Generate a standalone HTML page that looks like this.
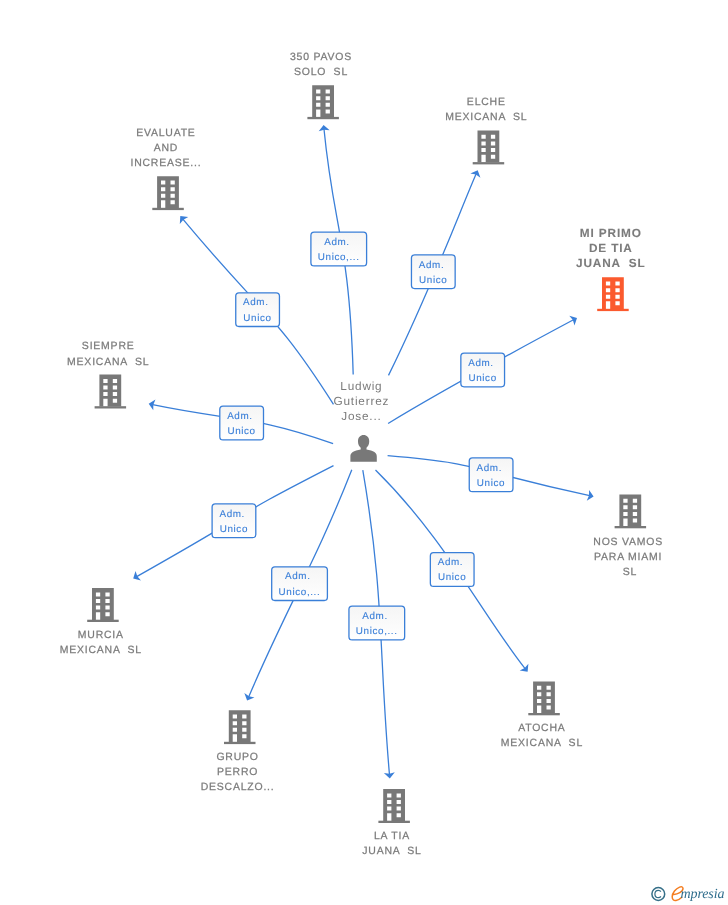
<!DOCTYPE html>
<html><head><meta charset="utf-8"><style>
html,body{margin:0;padding:0;background:#fff;width:728px;height:905px;overflow:hidden}
svg{position:absolute;left:0;top:0;display:block;will-change:transform}
text{font-family:"Liberation Sans",sans-serif;white-space:pre;stroke-width:0.25px;text-rendering:geometricPrecision}
.nl,.pl{stroke:#7b7b7b}
.pl{stroke-width:0.12px}
.nl.b{stroke-width:0.1px}
.el{stroke:#3a7fd8}
.nl{font-size:10.46px;fill:#7b7b7b;text-anchor:middle;letter-spacing:0.8px}
.nl.b{font-weight:bold;font-size:11.8px;letter-spacing:0.86px}
.pl{font-size:11.8px;fill:#7b7b7b;text-anchor:middle;letter-spacing:0.8px;stroke:none}
.el{font-size:9.85px;fill:#3a7fd8;text-anchor:middle;letter-spacing:0.62px;stroke-width:0.12px}
</style></head><body>
<svg width="728" height="905" viewBox="0 0 728 905" xml:space="preserve">
<defs><linearGradient id="g" x1="0" y1="0" x2="0" y2="1"><stop offset="0" stop-color="#f5f5f5"/><stop offset="1" stop-color="#ffffff"/></linearGradient></defs>
<path d="M353.20 374.40C349.12 239.75 333.63 228.43 323.98 128.98" fill="none" stroke="#3a7fd8" stroke-width="1.3"/>
<path d="M323.60 125.00L329.66 130.21L324.08 129.68L318.72 131.33Z" fill="#3a7fd8"/>
<path d="M388.50 375.40C431.68 287.62 458.76 213.78 476.09 173.96" fill="none" stroke="#3a7fd8" stroke-width="1.3"/>
<path d="M477.70 170.30L480.43 177.81L475.82 174.61L470.34 173.42Z" fill="#3a7fd8"/>
<path d="M333.50 404.30C274.06 311.12 264.22 316.58 182.86 219.17" fill="none" stroke="#3a7fd8" stroke-width="1.3"/>
<path d="M180.30 216.10L188.24 217.00L183.33 219.70L179.82 224.08Z" fill="#3a7fd8"/>
<path d="M388.10 423.50C439.96 391.87 507.87 354.85 573.47 319.79" fill="none" stroke="#3a7fd8" stroke-width="1.3"/>
<path d="M577.00 317.90L574.48 325.49L572.86 320.12L569.29 315.79Z" fill="#3a7fd8"/>
<path d="M333.10 443.60C252.64 415.11 235.75 421.82 152.62 404.62" fill="none" stroke="#3a7fd8" stroke-width="1.3"/>
<path d="M148.70 403.80L155.48 399.57L153.31 404.74L153.29 410.35Z" fill="#3a7fd8"/>
<path d="M387.60 455.70C486.07 463.90 465.99 468.95 589.69 495.66" fill="none" stroke="#3a7fd8" stroke-width="1.3"/>
<path d="M593.60 496.50L586.76 500.63L589.01 495.49L589.11 489.89Z" fill="#3a7fd8"/>
<path d="M333.50 465.60C220.00 523.86 275.82 498.10 136.68 576.63" fill="none" stroke="#3a7fd8" stroke-width="1.3"/>
<path d="M133.20 578.60L135.54 570.96L137.29 576.28L140.96 580.53Z" fill="#3a7fd8"/>
<path d="M375.50 470.00C443.97 537.38 482.20 614.12 525.11 668.67" fill="none" stroke="#3a7fd8" stroke-width="1.3"/>
<path d="M527.60 671.80L519.70 670.60L524.71 668.09L528.38 663.84Z" fill="#3a7fd8"/>
<path d="M351.80 469.70C314.82 563.81 287.12 606.74 248.66 696.92" fill="none" stroke="#3a7fd8" stroke-width="1.3"/>
<path d="M247.10 700.60L244.34 693.10L248.96 696.28L254.44 697.44Z" fill="#3a7fd8"/>
<path d="M362.80 470.20C384.54 597.53 378.45 647.58 389.45 774.42" fill="none" stroke="#3a7fd8" stroke-width="1.3"/>
<path d="M389.80 778.40L383.84 773.08L389.41 773.72L394.80 772.16Z" fill="#3a7fd8"/>
<rect x="310.90" y="232.20" width="55.70" height="33.70" rx="3.2" fill="url(#g)" stroke="#3a7fd8" stroke-width="1.3"/>
<text x="338.66" y="244.85" class="el">Adm. </text>
<text x="338.66" y="259.95" class="el">Unico,...</text>
<rect x="411.45" y="254.85" width="43.70" height="33.70" rx="3.2" fill="url(#g)" stroke="#3a7fd8" stroke-width="1.3"/>
<text x="433.21" y="267.50" class="el">Adm. </text>
<text x="433.21" y="282.60" class="el">Unico</text>
<rect x="235.75" y="292.80" width="43.70" height="33.70" rx="3.2" fill="url(#g)" stroke="#3a7fd8" stroke-width="1.3"/>
<text x="257.51" y="305.45" class="el">Adm. </text>
<text x="257.51" y="320.55" class="el">Unico</text>
<rect x="460.85" y="353.10" width="43.70" height="33.70" rx="3.2" fill="url(#g)" stroke="#3a7fd8" stroke-width="1.3"/>
<text x="482.61" y="365.75" class="el">Adm. </text>
<text x="482.61" y="380.85" class="el">Unico</text>
<rect x="219.80" y="406.15" width="43.70" height="33.70" rx="3.2" fill="url(#g)" stroke="#3a7fd8" stroke-width="1.3"/>
<text x="241.56" y="418.80" class="el">Adm. </text>
<text x="241.56" y="433.90" class="el">Unico</text>
<rect x="469.25" y="457.90" width="43.70" height="33.70" rx="3.2" fill="url(#g)" stroke="#3a7fd8" stroke-width="1.3"/>
<text x="491.01" y="470.55" class="el">Adm. </text>
<text x="491.01" y="485.65" class="el">Unico</text>
<rect x="212.10" y="503.90" width="43.70" height="33.70" rx="3.2" fill="url(#g)" stroke="#3a7fd8" stroke-width="1.3"/>
<text x="233.86" y="516.55" class="el">Adm. </text>
<text x="233.86" y="531.65" class="el">Unico</text>
<rect x="430.35" y="552.70" width="43.70" height="33.70" rx="3.2" fill="url(#g)" stroke="#3a7fd8" stroke-width="1.3"/>
<text x="452.11" y="565.35" class="el">Adm. </text>
<text x="452.11" y="580.45" class="el">Unico</text>
<rect x="271.70" y="566.80" width="55.70" height="33.70" rx="3.2" fill="url(#g)" stroke="#3a7fd8" stroke-width="1.3"/>
<text x="299.46" y="579.45" class="el">Adm. </text>
<text x="299.46" y="594.55" class="el">Unico,...</text>
<rect x="348.95" y="606.15" width="55.70" height="33.70" rx="3.2" fill="url(#g)" stroke="#3a7fd8" stroke-width="1.3"/>
<text x="376.71" y="618.80" class="el">Adm. </text>
<text x="376.71" y="633.90" class="el">Unico,...</text>
<g fill="#787878"><path fill-rule="evenodd" d="M312.20 85.30h21.8v31.8h-21.8z M316.10 89.60h4.3v4.0h-4.3z M325.60 89.60h4.3v4.0h-4.3z M316.10 96.25h4.3v4.0h-4.3z M325.60 96.25h4.3v4.0h-4.3z M316.10 102.80h4.3v4.0h-4.3z M325.60 102.80h4.3v4.0h-4.3z M325.60 109.45h4.3v4.0h-4.3z M316.10 109.45h4.3v7.65h-4.3z"/><rect x="307.40" y="116.90" width="31.5" height="2.3"/></g>
<text x="321.00" y="59.80" class="nl">350 PAVOS</text>
<text x="321.00" y="74.90" class="nl">SOLO  SL</text>
<g fill="#787878"><path fill-rule="evenodd" d="M477.50 130.50h21.8v31.8h-21.8z M481.40 134.80h4.3v4.0h-4.3z M490.90 134.80h4.3v4.0h-4.3z M481.40 141.45h4.3v4.0h-4.3z M490.90 141.45h4.3v4.0h-4.3z M481.40 148.00h4.3v4.0h-4.3z M490.90 148.00h4.3v4.0h-4.3z M490.90 154.65h4.3v4.0h-4.3z M481.40 154.65h4.3v7.65h-4.3z"/><rect x="472.70" y="162.10" width="31.5" height="2.3"/></g>
<text x="486.30" y="104.90" class="nl">ELCHE</text>
<text x="486.30" y="120.00" class="nl">MEXICANA  SL</text>
<g fill="#787878"><path fill-rule="evenodd" d="M157.10 176.20h21.8v31.8h-21.8z M161.00 180.50h4.3v4.0h-4.3z M170.50 180.50h4.3v4.0h-4.3z M161.00 187.15h4.3v4.0h-4.3z M170.50 187.15h4.3v4.0h-4.3z M161.00 193.70h4.3v4.0h-4.3z M170.50 193.70h4.3v4.0h-4.3z M170.50 200.35h4.3v4.0h-4.3z M161.00 200.35h4.3v7.65h-4.3z"/><rect x="152.30" y="207.80" width="31.5" height="2.3"/></g>
<text x="165.90" y="135.60" class="nl">EVALUATE</text>
<text x="165.90" y="150.70" class="nl">AND</text>
<text x="165.90" y="165.80" class="nl">INCREASE...</text>
<g fill="#fb5a2e"><path fill-rule="evenodd" d="M602.00 277.20h21.8v31.8h-21.8z M605.90 281.50h4.3v4.0h-4.3z M615.40 281.50h4.3v4.0h-4.3z M605.90 288.15h4.3v4.0h-4.3z M615.40 288.15h4.3v4.0h-4.3z M605.90 294.70h4.3v4.0h-4.3z M615.40 294.70h4.3v4.0h-4.3z M615.40 301.35h4.3v4.0h-4.3z M605.90 301.35h4.3v7.65h-4.3z"/><rect x="597.20" y="308.80" width="31.5" height="2.3"/></g>
<text x="610.83" y="236.70" class="nl b">MI PRIMO</text>
<text x="610.83" y="251.80" class="nl b">DE TIA</text>
<text x="610.83" y="266.90" class="nl b">JUANA  SL</text>
<g fill="#787878"><path fill-rule="evenodd" d="M99.40 374.60h21.8v31.8h-21.8z M103.30 378.90h4.3v4.0h-4.3z M112.80 378.90h4.3v4.0h-4.3z M103.30 385.55h4.3v4.0h-4.3z M112.80 385.55h4.3v4.0h-4.3z M103.30 392.10h4.3v4.0h-4.3z M112.80 392.10h4.3v4.0h-4.3z M112.80 398.75h4.3v4.0h-4.3z M103.30 398.75h4.3v7.65h-4.3z"/><rect x="94.60" y="406.20" width="31.5" height="2.3"/></g>
<text x="108.20" y="349.40" class="nl">SIEMPRE</text>
<text x="108.20" y="364.50" class="nl">MEXICANA  SL</text>
<g fill="#787878"><path fill-rule="evenodd" d="M619.40 494.40h21.8v31.8h-21.8z M623.30 498.70h4.3v4.0h-4.3z M632.80 498.70h4.3v4.0h-4.3z M623.30 505.35h4.3v4.0h-4.3z M632.80 505.35h4.3v4.0h-4.3z M623.30 511.90h4.3v4.0h-4.3z M632.80 511.90h4.3v4.0h-4.3z M632.80 518.55h4.3v4.0h-4.3z M623.30 518.55h4.3v7.65h-4.3z"/><rect x="614.60" y="526.00" width="31.5" height="2.3"/></g>
<text x="628.20" y="544.50" class="nl">NOS VAMOS</text>
<text x="628.20" y="559.60" class="nl">PARA MIAMI</text>
<text x="628.20" y="574.70" class="nl"> SL</text>
<g fill="#787878"><path fill-rule="evenodd" d="M92.00 588.10h21.8v31.8h-21.8z M95.90 592.40h4.3v4.0h-4.3z M105.40 592.40h4.3v4.0h-4.3z M95.90 599.05h4.3v4.0h-4.3z M105.40 599.05h4.3v4.0h-4.3z M95.90 605.60h4.3v4.0h-4.3z M105.40 605.60h4.3v4.0h-4.3z M105.40 612.25h4.3v4.0h-4.3z M95.90 612.25h4.3v7.65h-4.3z"/><rect x="87.20" y="619.70" width="31.5" height="2.3"/></g>
<text x="100.80" y="637.70" class="nl">MURCIA</text>
<text x="100.80" y="652.80" class="nl">MEXICANA  SL</text>
<g fill="#787878"><path fill-rule="evenodd" d="M533.10 681.40h21.8v31.8h-21.8z M537.00 685.70h4.3v4.0h-4.3z M546.50 685.70h4.3v4.0h-4.3z M537.00 692.35h4.3v4.0h-4.3z M546.50 692.35h4.3v4.0h-4.3z M537.00 698.90h4.3v4.0h-4.3z M546.50 698.90h4.3v4.0h-4.3z M546.50 705.55h4.3v4.0h-4.3z M537.00 705.55h4.3v7.65h-4.3z"/><rect x="528.30" y="713.00" width="31.5" height="2.3"/></g>
<text x="541.90" y="730.80" class="nl">ATOCHA</text>
<text x="541.90" y="745.90" class="nl">MEXICANA  SL</text>
<g fill="#787878"><path fill-rule="evenodd" d="M228.80 710.20h21.8v31.8h-21.8z M232.70 714.50h4.3v4.0h-4.3z M242.20 714.50h4.3v4.0h-4.3z M232.70 721.15h4.3v4.0h-4.3z M242.20 721.15h4.3v4.0h-4.3z M232.70 727.70h4.3v4.0h-4.3z M242.20 727.70h4.3v4.0h-4.3z M242.20 734.35h4.3v4.0h-4.3z M232.70 734.35h4.3v7.65h-4.3z"/><rect x="224.00" y="741.80" width="31.5" height="2.3"/></g>
<text x="237.60" y="759.50" class="nl">GRUPO</text>
<text x="237.60" y="774.60" class="nl">PERRO</text>
<text x="237.60" y="789.70" class="nl">DESCALZO...</text>
<g fill="#787878"><path fill-rule="evenodd" d="M383.20 789.10h21.8v31.8h-21.8z M387.10 793.40h4.3v4.0h-4.3z M396.60 793.40h4.3v4.0h-4.3z M387.10 800.05h4.3v4.0h-4.3z M396.60 800.05h4.3v4.0h-4.3z M387.10 806.60h4.3v4.0h-4.3z M396.60 806.60h4.3v4.0h-4.3z M396.60 813.25h4.3v4.0h-4.3z M387.10 813.25h4.3v7.65h-4.3z"/><rect x="378.40" y="820.70" width="31.5" height="2.3"/></g>
<text x="392.00" y="838.80" class="nl">LA TIA</text>
<text x="392.00" y="853.90" class="nl">JUANA  SL</text>
<path fill="#787878" d="M350.4 461.7L350.4 456.8C350.4 453.2 352.6 451.6 356.2 450.6L360.7 449.4L360.7 447.8C359.1 446.4 358 444.4 358 441.8L358 440.9C358 437.6 360.4 435 363.6 435C366.8 435 369.2 437.6 369.2 440.9L369.2 441.8C369.2 444.4 368.1 446.4 366.5 447.8L366.5 449.4L371 450.6C374.6 451.6 376.8 453.2 376.8 456.8L376.8 461.7Z"/>
<text x="361.4" y="389.8" class="pl">Ludwig</text>
<text x="361.4" y="404.6" class="pl">Gutierrez</text>
<text x="361.4" y="419.5" class="pl">Jose...</text>
<circle cx="658.3" cy="894" r="6.4" fill="none" stroke="#356f88" stroke-width="1.5"/>
<path d="M660.9 891.6C660.3 890.7 659.4 890.3 658.4 890.3C656.3 890.3 654.9 891.9 654.9 894C654.9 896.1 656.3 897.7 658.4 897.7C659.4 897.7 660.3 897.3 660.9 896.4" fill="none" stroke="#356f88" stroke-width="1.2"/>
<path d="M673.8 894.6C677.5 894.2 683 891.8 683 888.6C683 886.8 681.3 886.4 679.6 887.1C675.8 888.6 672.2 892.8 672.2 896.8C672.2 899.4 673.7 900.7 676 900.4C678.2 900.1 680.2 898.8 681.8 897.2" fill="none" stroke="#f47d20" stroke-width="1.5" stroke-linecap="round"/>
<text x="680.5" y="897.8" style="font-family:'Liberation Serif',serif;font-style:italic;font-size:14px;fill:#2f6d8c;letter-spacing:-0.1px">mpresia</text>
</svg>
</body></html>
